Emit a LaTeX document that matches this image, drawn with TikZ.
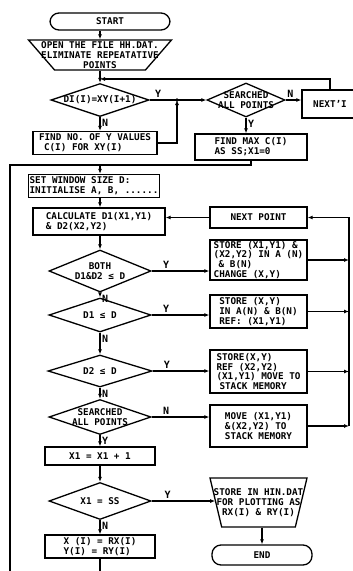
\documentclass[tikz,border=0pt]{standalone}
\usepackage{fontspec}
\setmainfont{DejaVu Sans Mono}
\usetikzlibrary{shapes.geometric,arrows.meta}

\begin{document}
\begin{tikzpicture}[x=1pt,y=-1pt,line width=1.3pt,>={Latex[length=5pt,width=4pt]},
  every node/.style={font=\fontsize{9.3}{9.8}\selectfont\bfseries},
  box/.style={draw, rectangle, align=left, inner sep=1pt},
  term/.style={draw, rectangle, rounded corners=9pt, align=center},
  dec/.style={draw, diamond, inner sep=2pt},
  io/.style={draw, trapezium, shape border rotate=180, trapezium stretches=true, inner sep=2pt},
  dtext/.style={align=center, inner sep=0pt},
  lbl/.style={inner sep=1.5pt, font=\fontsize{10}{10}\selectfont\bfseries}]
\useasboundingbox (0,0) rectangle (353,571);
\node[term, minimum width=120pt, minimum height=17pt] (start) at (110,21.5) {START};
\node[io, minimum width=143pt, minimum height=30pt, trapezium angle=74,
  label={[dtext]center:{OPEN THE FILE HH.DAT.\\ELIMINATE REPEATATIVE\\POINTS}}] (open) at (100,55) {};
\node[dec, minimum width=98pt, minimum height=33pt, label={[dtext]center:{DI(I)=XY(I+1)}}] (d1) at (100,100) {};
\node[dec, minimum width=78pt, minimum height=34pt, label={[dtext]center:{SEARCHED\\ALL POINTS}}] (d2) at (246,100) {};
\node[box, minimum width=56pt, minimum height=28pt] (nexti) at (330,104) {NEXT'I};
\node[box, minimum width=124pt, minimum height=23pt] (findno) at (95,143) {FIND NO. OF Y VALUES\\\hspace*{5pt}C(I) FOR XY(I)};
\node[box, minimum width=112pt, minimum height=26pt] (findmax) at (251,147) {FIND MAX C(I)\\AS SS;X1=0};
\node[box, minimum width=122pt, minimum height=23pt] (setwin) at (94,186) {SET WINDOW SIZE D:\\INITIALISE A, B, ......};
\node[box, minimum width=132pt, minimum height=27pt] (calc) at (99,221.5) {CALCULATE D1(X1,Y1)\\\& D2(X2,Y2)};
\node[box, minimum width=97pt, minimum height=21pt] (nextp) at (258.5,217.5) {NEXT POINT};
\node[dec, minimum width=102pt, minimum height=42pt, label={[dtext]center:{BOTH\\D1\&D2 ≤ D}}] (d3) at (100,271) {};
\node[box, minimum width=97pt, minimum height=40pt] (store1) at (258.5,260) {STORE (X1,Y1) \&\\(X2,Y2) IN A (N)\\\hspace*{5pt}\& B(N)\\CHANGE (X,Y)};
\node[dec, minimum width=102pt, minimum height=34pt, label={[dtext]center:{D1 ≤ D}}] (d4) at (100,315) {};
\node[box, minimum width=97pt, minimum height=33pt] (store2) at (258.5,311.5) {STORE (X,Y)\\IN A(N) \& B(N)\\REF: (X1,Y1)};
\node[dec, minimum width=104pt, minimum height=32pt, label={[dtext]center:{D2 ≤ D}}] (d5) at (100,371) {};
\node[box, minimum width=97pt, minimum height=43pt] (store3) at (258.5,371.5) {STORE(X,Y)\\REF (X2,Y2)\\(X1,Y1) MOVE TO\\\hspace*{3pt}STACK MEMORY};
\node[dec, minimum width=102pt, minimum height=35pt, label={[dtext]center:{SEARCHED\\ALL POINTS}}] (d6) at (100,417) {};
\node[box, minimum width=97pt, minimum height=42pt] (move) at (258.5,426) {MOVE (X1,Y1)\\\&(X2,Y2) TO\\STACK MEMORY};
\node[box, minimum width=110pt, minimum height=18pt] (incx) at (100,456) {X1 = X1 + 1};
\node[dec, minimum width=102pt, minimum height=37pt, label={[dtext]center:{X1 = SS}}] (d7) at (100,501) {};
\node[io, minimum width=97pt, minimum height=49pt, trapezium angle=81,
  label={[dtext]center:{STORE IN HIN.DAT\\FOR PLOTTING AS\\RX(I) \& RY(I)}}] (storehin) at (258.5,502.5) {};
\node[term, minimum width=100pt, minimum height=20pt] (end) at (262,555) {END};
\node[box, minimum width=110pt, minimum height=23pt] (xrx) at (100,546.5) {X (I) = RX(I)\\Y(I) = RY(I)};
\coordinate (jt) at (100,79);
\coordinate (j2) at (177,100);
\coordinate (j3) at (100,165);
\coordinate (lft) at (10,165);
\coordinate (ct) at (349,217.5);
\coordinate (cb) at (349,426);
\draw[->] (start.south -| open.north) -- (open.north);
\draw[->] (open) -- (d1);
\draw[->] (nexti.north) |- (jt);
\draw[->] (d1) -- node[lbl, above, pos=0.15] {Y} (d2);
\draw[->] (d1) -- node[lbl, anchor=north west, pos=0] {N} (d1 |- findno.north);
\draw[->] (findno.east) -| (j2);
\fill (j2) circle (1.8pt);
\draw[->] (d2) -- node[lbl, above, pos=0.3] {N} (d2 -| nexti.west);
\draw[->] (d2) -- node[lbl, anchor=north west, pos=0] {Y} (d2 |- findmax.north);
\draw (findmax) |- (j3);
\draw[->] (j3) -- (j3 |- setwin.north);
\draw[->] (j3 |- setwin.south) -- (j3 |- calc.north);
\draw[->] (nextp.west) -- (nextp.west -| calc.east);
\draw[->] (d3 |- calc.south) -- (d3);
\draw[->] (d3) -- node[lbl, above, pos=0.25] {Y} (d3 -| store1.west);
\draw[->] (d3) -- node[lbl, anchor=north west, pos=0] {N} (d4);
\draw[->] (d4) -- node[lbl, above, pos=0.25] {Y} (d4 -| store2.west);
\draw[->] (d4) -- node[lbl, anchor=north west, pos=0] {N} (d5);
\draw[->] (d5) -- node[lbl, above, pos=0.25] {Y} (d5 -| store3.west);
\draw[->] (d5) -- node[lbl, anchor=north west, pos=0] {N} (d6);
\draw[->] (d6) -- node[lbl, above, pos=0.25] {N} (d6 -| move.west);
\draw[->] (d6) -- node[lbl, anchor=north west, pos=0] {Y} (incx);
\draw[->] (store1) -- (store1 -| ct);
\draw[->] (store2) -- (store2 -| ct);
\draw[->] (store3) -- (store3 -| ct);
\draw[->] (move) -- (cb);
\draw[->] (cb) -- (ct) -- (nextp.east);
\draw[->] (incx) -- (d7);
\draw[->] (d7) -- node[lbl, above, pos=0.25] {Y} (d7 -| storehin.west);
\draw[->] (d7) -- node[lbl, anchor=north west, pos=0] {N} (xrx);
\draw[->] (end |- storehin.south) -- (end);
\draw (xrx) -- ++(0,30) -| (lft) -- (j3);
\end{tikzpicture}
\end{document}
